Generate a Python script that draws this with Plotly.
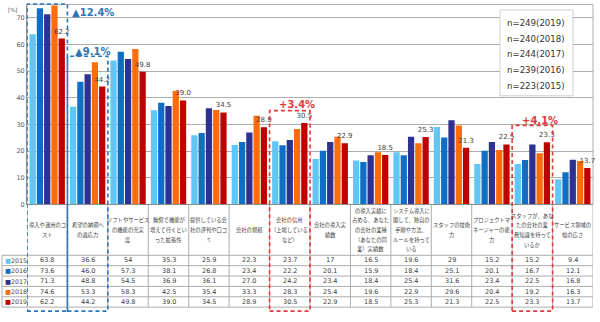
import plotly.graph_objects as go

W, H = 600, 322

# ---- data -------------------------------------------------------------
categories = [
    "導入や運用のコ<br>スト",
    "希望の納期へ<br>の適応力",
    "ソフトやサービス<br>の機能の充実<br>度",
    "無償で機能が<br>増えて行くとい<br>った拡張性",
    "提供している会<br>社の評判や口コ<br>ミ",
    "会社の規模",
    "会社の信用<br>（上場している<br>など）",
    "会社の導入実<br>績数",
    "の導入実績に<br>占める、あなた<br>の会社の業種<br>（あなたの同<br>業）実績数",
    "システム導入に<br>関して、独自の<br>手順や方法、<br>ルールを持って<br>いる",
    "スタッフの技術<br>力",
    "プロジェクトマ<br>ネージャーの能<br>力",
    "スタッフが、あな<br>たの会社の業<br>務知識を持って<br>いるか",
    "サービス領域の<br>幅の広さ",
]
years = ["2015", "2016", "2017", "2018", "2019"]
v2015 = [63.8, 36.6, 54, 35.3, 25.9, 22.3, 23.7, 17, 16.5, 19.6, 29, 15.2, 15.2, 9.4]
v2016 = [73.6, 46.0, 57.3, 38.1, 26.8, 23.4, 22.2, 20.1, 15.9, 18.4, 25.1, 20.1, 16.7, 12.1]
v2017 = [71.3, 48.8, 54.5, 36.9, 36.1, 27.0, 24.2, 23.4, 18.4, 25.4, 31.6, 23.4, 22.5, 16.8]
v2018 = [74.6, 53.3, 58.3, 42.5, 35.4, 33.3, 28.3, 25.4, 19.6, 22.9, 29.6, 20.4, 19.2, 16.3]
v2019 = [62.2, 44.2, 49.8, 39.0, 34.5, 28.9, 30.5, 22.9, 18.5, 25.3, 21.3, 22.5, 23.3, 13.7]
series = [v2015, v2016, v2017, v2018, v2019]
sample_sizes = ["n=249(2019)", "n=240(2018)", "n=244(2017)", "n=239(2016)", "n=223(2015)"]
y_ticks = [0, 10, 20, 30, 40, 50, 60, 70]

colors = ["#62C6F4", "#0F6FC6", "#2E3192", "#FF6C0C", "#C00000"]

FONT = "DejaVu Sans, Noto Sans CJK JP, sans-serif"
JP = "Noto Sans CJK JP, sans-serif"
GRID = "#ADADAD"
TXT = "#404040"


def fmt(v):
    return str(v) if isinstance(v, int) else f"{v:.1f}"


def px(x):
    return x / W


def py(y):
    return 1 - y / H


X0, X1 = 27, 593          # plot area, pixels
Y_TOP, Y_BASE = 4.5, 207  # value 75 / value 0
N = len(categories)

fig = go.Figure()
for yr, vals, col in zip(years, series, colors):
    kw = {}
    if yr == "2019":
        kw = dict(text=[fmt(v) for v in vals], textposition="outside",
                  textfont=dict(size=7, color=TXT, family=FONT),
                  constraintext="none", cliponaxis=False)
    fig.add_trace(go.Bar(x=list(range(N)), y=vals, name=yr,
                         marker=dict(color=col, line=dict(width=0)), **kw))

shapes = []
annotations = []

# plot frame
shapes.append(dict(type="rect", xref="paper", yref="paper",
                   x0=px(X0), x1=px(X1), y0=py(Y_BASE), y1=py(Y_TOP),
                   line=dict(color=GRID, width=1), layer="below"))

# ---- table under the bars ----------------------------------------------
ROW0, ROWH = 258.5, 10.5
row_lines = [ROW0 + k * ROWH for k in range(6)]
for yl in row_lines:
    shapes.append(dict(type="line", xref="paper", yref="paper",
                       x0=px(2), x1=px(X1), y0=py(yl), y1=py(yl),
                       line=dict(color=GRID, width=1)))
shapes.append(dict(type="line", xref="paper", yref="paper",
                   x0=px(2), x1=px(2), y0=py(row_lines[0]), y1=py(row_lines[-1]),
                   line=dict(color=GRID, width=1)))
for i in range(N + 1):
    shapes.append(dict(type="line", xref="x", yref="paper",
                       x0=i - 0.5, x1=i - 0.5, y0=py(Y_BASE), y1=py(row_lines[-1]),
                       line=dict(color=GRID, width=1)))

# category headers, one annotation per line
for i, cat in enumerate(categories):
    lines = cat.split("<br>")
    n = len(lines)
    for k, ln in enumerate(lines):
        yc = 233 + (k - (n - 1) / 2) * 9.8
        annotations.append(dict(xref="x", yref="paper", x=i, y=py(yc), text=ln,
                                showarrow=False, xanchor="center", yanchor="middle",
                                font=dict(size=5.3, color=TXT, family=JP)))

# values rows
for r, (yr, vals, col) in enumerate(zip(years, series, colors)):
    yc = ROW0 + ROWH * (r + 0.5)
    annotations.append(dict(xref="paper", yref="paper", x=px(3), y=py(yc),
                            text=f"<span style='color:{col}'>■</span>{yr}",
                            showarrow=False, xanchor="left", yanchor="middle",
                            font=dict(size=6.3, color=TXT, family=FONT)))
    for i, v in enumerate(vals):
        annotations.append(dict(xref="x", yref="paper", x=i, y=py(yc), text=fmt(v),
                                showarrow=False, xanchor="center", yanchor="middle",
                                font=dict(size=6.5, color=TXT, family=FONT)))

# ---- highlight boxes -----------------------------------------------------
BLUE = "#2E75B6"
RED = "#E23A3A"
boxes = [(0, 4, BLUE), (1, 57, BLUE), (6, 112, RED), (12, 127, RED)]
for ci, top, col in boxes:
    shapes.append(dict(type="rect", xref="x", yref="paper",
                       x0=ci - 0.5, x1=ci + 0.5, y0=py(315), y1=py(top),
                       line=dict(color=col, width=1.6, dash="4px,3px")))

callouts = [(93, 13, "▲12.4%", BLUE), (92, 52, "▲9.1%", BLUE),
            (297, 106, "+3.4%", RED), (540, 122, "+4.1%", RED)]
for xc, yc, t, col in callouts:
    annotations.append(dict(xref="paper", yref="paper", x=px(xc), y=py(yc), text=f"<b>{t}</b>",
                            showarrow=False, xanchor="center", yanchor="middle",
                            font=dict(size=10, color=col, family=FONT)))

# ---- sample size box -------------------------------------------------------
shapes.append(dict(type="rect", xref="paper", yref="paper",
                   x0=px(500), x1=px(573), y0=py(97), y1=py(10),
                   line=dict(color="#D0D0D0", width=1), fillcolor="white"))
for k, s in enumerate(sample_sizes):
    annotations.append(dict(xref="paper", yref="paper", x=px(505), y=py(23 + k * 16), text=s,
                            showarrow=False, xanchor="left", yanchor="middle",
                            font=dict(size=8.6, color="#333333", family=FONT)))

annotations.append(dict(xref="paper", yref="paper", x=px(6), y=py(10), text="[%]",
                        showarrow=False, xanchor="left", yanchor="middle",
                        font=dict(size=5.5, color="#595959", family=FONT)))

fig.update_layout(
    width=W, height=H, autosize=False,
    margin=dict(l=0, r=0, t=0, b=0),
    paper_bgcolor="white", plot_bgcolor="white",
    showlegend=False,
    barmode="group", bargap=0.1, bargroupgap=0.14,
    shapes=shapes, annotations=annotations,
    font=dict(family=FONT),
)
fig.update_xaxes(domain=[px(X0), px(X1)], range=[-0.5, N - 0.5],
                 showticklabels=False, showgrid=False, zeroline=False,
                 showline=True, linecolor="#8C8C8C", linewidth=1, ticks="")
fig.update_yaxes(domain=[py(Y_BASE), py(Y_TOP)], range=[0, 75],
                 tickvals=y_ticks, ticktext=[str(t) for t in y_ticks],
                 tickfont=dict(size=6.5, color="#595959", family=FONT),
                 showgrid=True, gridcolor=GRID, gridwidth=1, zeroline=False,
                 showline=True, linecolor="#8C8C8C", linewidth=1, ticks="")

fig.write_html("out.html")
